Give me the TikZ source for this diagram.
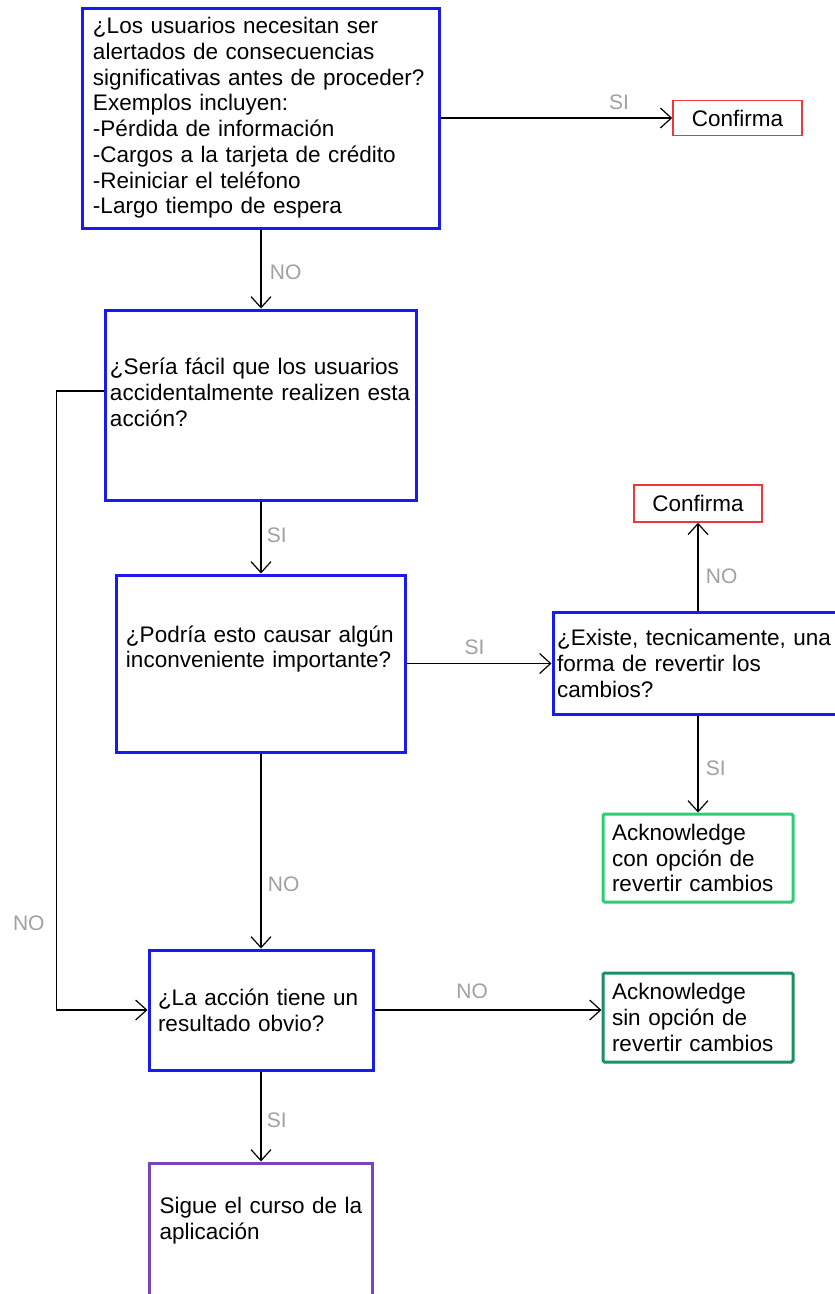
\documentclass[tikz,border=0pt]{standalone}
\usepackage{fontspec}
\setmainfont{Liberation Sans}
\usetikzlibrary{arrows.meta}

\definecolor{qblue}{RGB}{25,25,240}
\definecolor{cred}{RGB}{240,55,55}
\definecolor{agreen}{RGB}{45,205,115}
\definecolor{ateal}{RGB}{25,145,100}
\definecolor{spurple}{RGB}{120,70,185}
\definecolor{lblgray}{RGB}{160,160,160}

\begin{document}
\begin{tikzpicture}
        [x=1bp, y=-1bp, font=\fontsize{22.5bp}{25.7bp}\selectfont,
        qbox/.style={draw=qblue, line width=3bp, align=left, inner sep=2bp},
        cbox/.style={draw=cred, line width=1.5bp, inner sep=2bp},
        abox/.style={line width=3bp, align=left, inner sep=2bp, rounded corners=1.5bp},
        edge/.style={line width=1.2bp, black, -{Straight Barb[length=11bp,width=20bp]}},
        lbl/.style={text=lblgray, font=\fontsize{21bp}{24bp}\selectfont}]

        \clip (0,0) rectangle (835,1294);

        % questions (blue boxes)
        \node[qbox, minimum width=356bp, minimum height=220bp, text width=336bp] (q1) at (261,118)
            {¿Los usuarios necesitan ser\\alertados de consecuencias\\significativas antes de proceder?\\Exemplos incluyen:\\-Pérdida de información\\-Cargos a la tarjeta de crédito\\-Reiniciar el teléfono\\-Largo tiempo de espera};
        \node[qbox, minimum width=310bp, minimum height=190bp, text width=302bp] (q2) at (261,405)
            {¿Sería fácil que los usuarios\\accidentalmente realizen esta\\acción?\\~};
        \node[qbox, minimum width=288bp, minimum height=177bp, text width=270bp] (q3) at (261,663.5)
            {¿Podría esto causar algún\\inconveniente importante?\\[8bp]~};
        \node[qbox, minimum width=300bp, minimum height=102bp, text width=292bp] (q4) at (703,663.5)
            {¿Existe, tecnicamente, una\\forma de revertir los\\cambios?};
        \node[qbox, minimum width=224bp, minimum height=120bp, text width=206bp] (q5) at (261,1010)
            {¿La acción tiene un\\resultado obvio?};

        % answers
        \node[cbox, minimum width=129bp, minimum height=35bp] (c1) at (737.5,118) {Confirma};
        \node[cbox, minimum width=128bp, minimum height=37bp] (c2) at (698,503.5) {Confirma};
        \node[abox, draw=agreen, minimum width=190bp, minimum height=88bp, text width=172bp] (a1) at (698,858)
            {Acknowledge\\con opción de\\revertir cambios};
        \node[abox, draw=ateal, minimum width=190bp, minimum height=89bp, text width=172bp] (a2) at (698,1017.5)
            {Acknowledge\\sin opción de\\revertir cambios};
        \node[qbox, draw=spurple, minimum width=223bp, minimum height=170bp, text width=203bp] (p) at (261,1248)
            {Sigue el curso de la\\aplicación\\[34bp]~};

        % SI / NO edges
        \draw[edge] (q1.east) -- node[lbl, pos=0.77, above=4bp] (s1) {SI} (c1.west);
        \draw[edge] (q1.south) -- node[lbl, pos=0.54, right=5bp] (n1) {NO} (q2.north);
        \draw[edge] (q2.south) -- node[lbl, pos=0.47, right=2bp] (s2) {SI} (q3.north);
        \draw[edge] ([yshift=14bp]q2.west) -- ++(-48,0) |- node[lbl, pos=0.43, left=8bp] (n2) {NO} (q5.west);
        \draw[edge] (q3.east) -- node[lbl, pos=0.47, above=5bp] (s3) {SI} (q4.west);
        \draw[edge] (q4.north -| c2) -- node[lbl, pos=0.39, right=4bp] (n3) {NO} (c2);
        \draw[edge] (q4.south -| a1) -- node[lbl, pos=0.54, right=4bp] (s4) {SI} (a1);
        \draw[edge] (q3.south) -- node[lbl, pos=0.67, right=3bp] (n4) {NO} (q5.north);
        \draw[edge] (q5.east) -- node[lbl, pos=0.43, above=7bp] (n5) {NO} (q5.east -| a2.west);
        \draw[edge] (q5.south) -- node[lbl, pos=0.54, right=2bp] (s5) {SI} (p.north);

\end{tikzpicture}
\end{document}
